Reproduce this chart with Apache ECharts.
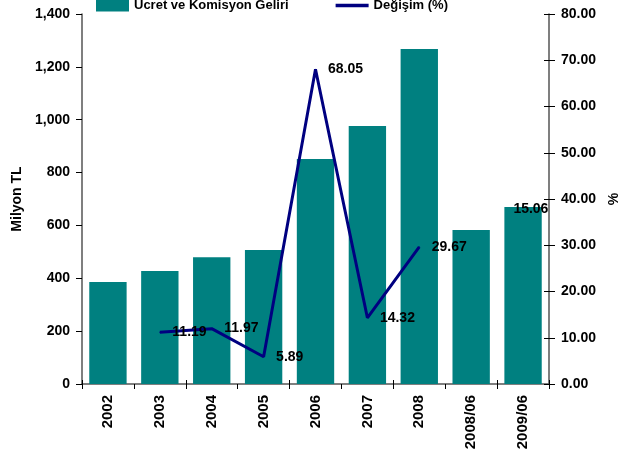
<!DOCTYPE html>
<html>
<head>
<meta charset="utf-8">
<script src="https://cdn.jsdelivr.net/npm/echarts@6/dist/echarts.min.js"></script>
<style>
  html, body { margin: 0; padding: 0; background: #fff; }
  #chart { width: 620px; height: 456px; }
</style>
</head>
<body>
<div id="chart"></div>
<script>
// Ücret ve komisyon gelirleri (Milyon TL) ve yıllık değişim (%)
var periods = ['2002', '2003', '2004', '2005', '2006', '2007', '2008', '2008/06', '2009/06'];
var incomeVals = [386, 428, 480, 507, 851, 976, 1268, 583, 670];
var changeVals = [null, 11.19, 11.97, 5.89, 68.05, 14.32, 29.67, null, null];
var halfYearChange = 15.06;   // 2009/06 vs 2008/06, Excel put its label on the bar
var leftTicks = [0, 1400, 200];
var rightTicks = [0, 80, 10];

var FONT = "'Liberation Sans', Arial, sans-serif";
var AXIS = '#555';
var boldTxt = { fontFamily: FONT, fontWeight: 'bold', fontSize: 14, color: '#000' };

var chart = echarts.init(document.getElementById('chart'));

var barData = incomeVals.map(function (v, i) {
  if (i !== periods.length - 1) return v;
  return { value: v, label: { show: true, formatter: halfYearChange.toFixed(2) } };
});

// tick-only twin axes so the ticks cross the axis line like in Excel
function tickTwinY(idx, range) {
  return {
    type: 'value', position: 'right', min: range[0], max: range[1], interval: range[2],
    axisLine: { show: false }, axisLabel: { show: false }, splitLine: { show: false },
    axisTick: { show: true, inside: true, length: 5, lineStyle: { color: '#000' } }
  };
}

chart.setOption({
  animation: false,
  textStyle: { fontFamily: FONT },
  legend: {
    top: -6, left: 91, itemGap: 47, itemWidth: 33, itemHeight: 12,
    textStyle: { fontFamily: FONT, fontWeight: 'bold', fontSize: 13, color: '#000' },
    data: [
      { name: 'Ücret ve Komisyon Geliri', icon: 'rect' },
      { name: 'Değişim (%)', icon: 'path://M0,0 L40,0 L40,4 L0,4 Z' }
    ]
  },
  grid: { left: 82, right: 71, top: 14, bottom: 72, outerBoundsMode: 'none' },
  xAxis: [{
    type: 'category', data: periods,
    axisLine: { lineStyle: { color: AXIS, width: 1.5 } },
    axisTick: { show: true, length: 5, lineStyle: { color: '#000' } },
    axisLabel: { rotate: 90, fontFamily: FONT, fontWeight: 'bold', fontSize: 15, color: '#000', margin: 11 }
  }, {
    type: 'category', data: periods, position: 'bottom',
    axisLine: { show: false }, axisLabel: { show: false },
    axisTick: { show: true, inside: true, length: 4, lineStyle: { color: '#000' } }
  }],
  yAxis: [{
    type: 'value', min: leftTicks[0], max: leftTicks[1], interval: leftTicks[2],
    name: 'Milyon TL', nameLocation: 'middle', nameGap: 58, nameRotate: 90,
    nameTextStyle: boldTxt,
    axisLine: { show: true, lineStyle: { color: AXIS, width: 1.5 } },
    axisTick: { show: true, length: 6, lineStyle: { color: '#000' } },
    splitLine: { show: false },
    axisLabel: Object.assign({ margin: 12, formatter: function (v) { return v.toLocaleString('en-US'); } }, boldTxt)
  }, {
    type: 'value', min: rightTicks[0], max: rightTicks[1], interval: rightTicks[2],
    name: '%', nameLocation: 'middle', nameGap: 56, nameRotate: 90,
    nameTextStyle: boldTxt,
    axisLine: { show: true, lineStyle: { color: AXIS, width: 1.5 } },
    axisTick: { show: true, length: 6, lineStyle: { color: '#000' } },
    splitLine: { show: false },
    axisLabel: Object.assign({ margin: 12, formatter: function (v) { return v.toFixed(2); } }, boldTxt)
  }, tickTwinY(2, rightTicks)],
  series: [{
    name: 'Ücret ve Komisyon Geliri', type: 'bar', yAxisIndex: 0,
    data: barData, barCategoryGap: '28%',
    itemStyle: { color: '#008080' },
    label: Object.assign({ show: false, position: [9, 2], verticalAlign: 'middle', align: 'left' }, boldTxt)
  }, {
    name: 'Değişim (%)', type: 'line', yAxisIndex: 1,
    data: changeVals, connectNulls: false,
    showSymbol: true, symbol: 'circle', symbolSize: 1,
    lineStyle: { color: '#000080', width: 3 },
    itemStyle: { color: '#000080' },
    label: Object.assign({ show: true, position: 'right', distance: 12,
      formatter: function (p) { return p.value.toFixed(2); } }, boldTxt)
  }]
});
</script>
</body>
</html>
